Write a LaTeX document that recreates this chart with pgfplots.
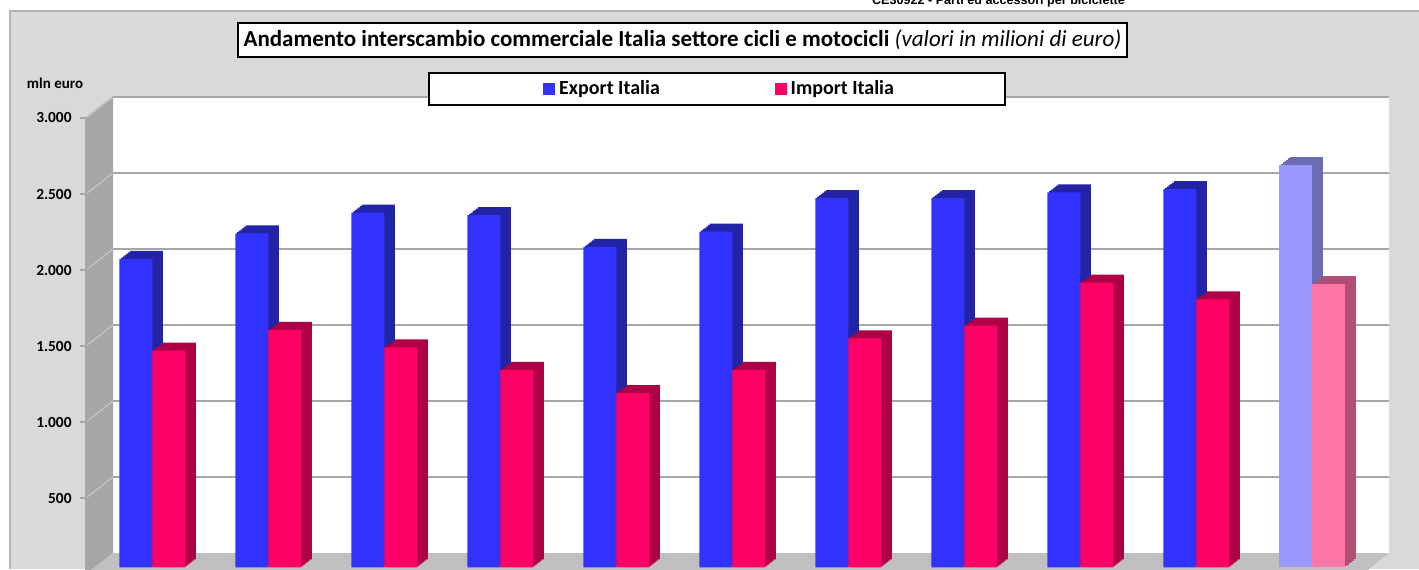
\documentclass[border=0pt]{standalone}
\usepackage{pgfplots}
\pgfplotsset{compat=1.18}
\usepackage{pgfplotstable}
\usepackage{fontspec}
\setmainfont{Carlito}
\newfontfamily\arialb{Liberation Sans}

\definecolor{bggray}{HTML}{D9D9D9}
\definecolor{framegray}{HTML}{B4B4B4}
\definecolor{sidegray}{HTML}{A6A6A6}
\definecolor{floorgray}{HTML}{C0C0C0}
\definecolor{gridgray}{HTML}{A6A6A6}
\definecolor{diaggray}{HTML}{C4C4C4}
\definecolor{expcol}{HTML}{3333FF}
\definecolor{expside}{HTML}{2323A6}
\definecolor{impcol}{HTML}{FF0066}
\definecolor{impside}{HTML}{B00046}
\definecolor{expl}{HTML}{9999FF}
\definecolor{explside}{HTML}{6C6CB4}
\definecolor{impl}{HTML}{FF75AA}
\definecolor{implside}{HTML}{B04E78}

\pgfplotstableread{
x e i
0 2029 1426
1 2198 1562
2 2334 1448
3 2317 1299
4 2108 1147
5 2209 1299
6 2430 1507
7 2430 1590
8 2468 1873
9 2488 1764
}\datamain
\pgfplotstableread{
x e i
10 2647 1863
}\datalast

\newcommand{\extr}[4]{%
  \pgfplotsinvokeforeach{6,5,4,3,2,1}{%
    \addplot[ybar, bar width=16.5pt, bar shift=#3, fill=#4, draw=none,
      xshift=##1*0.875pt, yshift=##1*0.6667pt, forget plot] table[x=x, y=#2] {#1};
  }%
}
\newcommand{\front}[4]{%
  \addplot[ybar, bar width=16.5pt, bar shift=#3, fill=#4, draw=none, forget plot]
    table[x=x, y=#2] {#1};
}

\begin{document}
\begin{tikzpicture}
\begin{scope}[x=0.5pt,y=0.5pt]
\path[use as bounding box] (0,0) rectangle (1419,569);
\clip (0,0) rectangle (1419,569);
\fill[white] (0,0) rectangle (1419,569);
\fill[bggray] (10,0) rectangle (1419,558);
\draw[framegray, line width=1pt] (10,0) -- (10,558) -- (1419,558);
\node[font=\arialb\bfseries\fontsize{6.3}{7}\selectfont, anchor=base, inner sep=0pt]
  at (998.5,564.5) {CE30922 - Parti ed accessori per biciclette};
% walls
\fill[white] (113,16) rectangle (1389,473);
\fill[sidegray] (86,-5) -- (86,452) -- (113,473) -- (113,16) -- cycle;
\fill[floorgray] (86,-5) -- (113,16) -- (1389,16) -- (1363,-5) -- cycle;
\foreach \k in {1,...,6} {
  \draw[gridgray, line width=0.75pt] (113,{16+76*\k}) -- (1389,{16+76*\k});
  \draw[diaggray, line width=0.6pt] (86,{-5+76*\k}) -- (113,{16+76*\k});
  \draw[gridgray, line width=0.6pt] (80,{-5+76*\k}) -- (86,{-5+76*\k});
}
\draw[gridgray, line width=0.6pt] (86,-5) -- (86,452);
% title
\node[draw=black, line width=0.75pt, fill=white, minimum width=444.5pt, minimum height=17pt,
  inner sep=0pt, font=\fontsize{11.5}{13}\selectfont] at (682.5,529)
  {\textbf{Andamento interscambio commerciale Italia settore cicli e motocicli} \textit{(valori in milioni di euro)}};
% legend frame
\draw[black, line width=0.75pt, fill=white] (429,464) rectangle (1005,496);
\node[font=\bfseries\fontsize{7.5}{9}\selectfont] at (55,486) {mln euro};
\end{scope}

\begin{axis}[
  at={(47.2pt,0.8pt)}, anchor=south west,
  width=638pt, height=228pt, scale only axis,
  xmin=-0.5, xmax=10.5, ymin=0, ymax=3000,
  clip=false,
  axis line style={draw=none},
  xtick=\empty,
  ytick={500,1000,1500,2000,2500,3000},
  yticklabels={500,1.000,1.500,2.000,2.500,3.000},
  major tick length=0pt,
  tick style={draw=none},
  yticklabel style={font=\bfseries\fontsize{7.7}{9}\selectfont, anchor=east, inner sep=0pt,
    xshift=-11.2pt, yshift=-3.3pt},
  legend columns=2,
  legend style={draw=none, fill=none, at={(0.3516,1.0491)}, anchor=west, inner sep=0pt,
    font=\bfseries\fontsize{10}{12}\selectfont,
    /tikz/every even column/.append style={column sep=55.5pt}},
]
\extr{\datamain}{e}{-8.25pt}{expside}
\extr{\datalast}{e}{-8.25pt}{explside}
\extr{\datamain}{i}{8.25pt}{impside}
\extr{\datalast}{i}{8.25pt}{implside}
\front{\datamain}{e}{-8.25pt}{expcol}
\front{\datalast}{e}{-8.25pt}{expl}
\front{\datamain}{i}{8.25pt}{impcol}
\front{\datalast}{i}{8.25pt}{impl}
\addlegendimage{legend image code/.code={\fill[expcol] (0pt,-2.75pt) rectangle (5.5pt,2.75pt);}}
\addlegendentry{Export Italia}
\addlegendimage{legend image code/.code={\fill[impcol] (0pt,-2.75pt) rectangle (5.5pt,2.75pt);}}
\addlegendentry{Import Italia}
\end{axis}
\end{tikzpicture}
\end{document}
